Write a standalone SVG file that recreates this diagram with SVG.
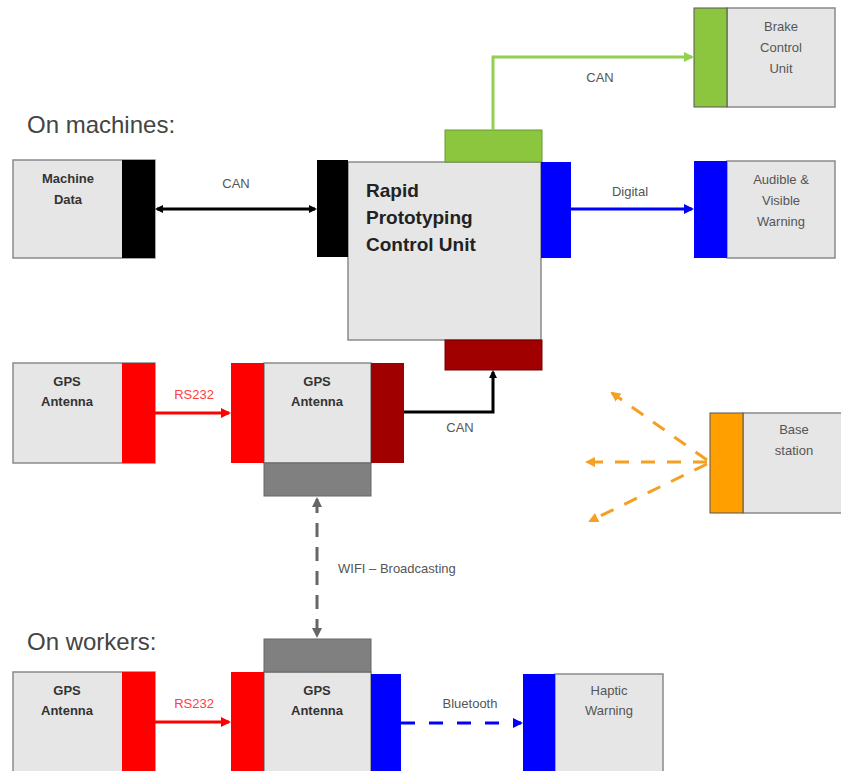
<svg xmlns="http://www.w3.org/2000/svg" width="841" height="771" viewBox="0 0 841 771">
<style>
.box{fill:#e6e6e6;stroke:#8a8a8a;stroke-width:1.5}
.bt{font-family:"Liberation Sans",Arial,sans-serif;font-size:13px;font-weight:bold;fill:#333;text-anchor:middle}
.nt{font-family:"Liberation Sans",Arial,sans-serif;font-size:13px;fill:#555;text-anchor:middle}
.lbl{font-family:"Liberation Sans",Arial,sans-serif;font-size:13px;fill:#555;text-anchor:middle}
.hd{font-family:"Liberation Sans",Arial,sans-serif;font-size:24px;fill:#444}
.big{font-family:"Liberation Sans",Arial,sans-serif;font-size:19px;font-weight:bold;fill:#222}
</style>
<defs>
<marker id="ak" markerWidth="8" markerHeight="8" refX="6" refY="4" orient="auto-start-reverse" markerUnits="userSpaceOnUse"><path d="M0,0 L8,4 L0,8 z" fill="#000"/></marker>
<marker id="ag" markerWidth="10" markerHeight="10" refX="8" refY="5" orient="auto" markerUnits="userSpaceOnUse"><path d="M0,0 L10,5 L0,10 z" fill="#92d050"/></marker>
<marker id="ab" markerWidth="10" markerHeight="10" refX="8" refY="5" orient="auto" markerUnits="userSpaceOnUse"><path d="M0,0 L10,5 L0,10 z" fill="#0000ff"/></marker>
<marker id="ar" markerWidth="10" markerHeight="10" refX="8" refY="5" orient="auto" markerUnits="userSpaceOnUse"><path d="M0,0 L10,5 L0,10 z" fill="#ff0000"/></marker>
<marker id="ay" markerWidth="10" markerHeight="10" refX="8" refY="5" orient="auto" markerUnits="userSpaceOnUse"><path d="M0,0 L10,5 L0,10 z" fill="#f4a020"/></marker>
<marker id="aw" markerWidth="10" markerHeight="10" refX="8" refY="5" orient="auto-start-reverse" markerUnits="userSpaceOnUse"><path d="M0,0 L10,5 L0,10 z" fill="#666"/></marker>
</defs>
<rect width="841" height="771" fill="#fff"/>
<text class="hd" x="27" y="133">On machines:</text>
<text class="hd" x="27" y="650">On workers:</text>

<g id="machine-data">
<rect class="box" x="13" y="160" width="142" height="98"/>
<rect x="122" y="160" width="33" height="98" fill="#000"/>
<text class="bt" x="68" y="183">Machine</text>
<text class="bt" x="68" y="204">Data</text>
</g>

<g id="rpcu">
<rect class="box" x="348" y="162" width="193" height="178"/>
<rect x="317" y="160" width="31" height="97" fill="#000"/>
<rect x="445" y="130" width="97" height="32" fill="#8cc63f" stroke="#6a9a30" stroke-width="1"/>
<rect x="541" y="162" width="30" height="96" fill="#0000ff"/>
<rect x="445" y="340" width="97" height="30" fill="#a00000" stroke="#700000" stroke-width="1"/>
<text class="big" x="366" y="197">Rapid</text>
<text class="big" x="366" y="224">Prototyping</text>
<text class="big" x="366" y="251">Control Unit</text>
</g>

<g id="brake">
<rect class="box" x="727" y="8" width="108" height="99"/>
<rect x="694" y="8" width="33" height="99" fill="#8cc63f" stroke="#555" stroke-width="1"/>
<text class="nt" x="781" y="31">Brake</text>
<text class="nt" x="781" y="52">Control</text>
<text class="nt" x="781" y="73">Unit</text>
</g>

<g id="audible">
<rect class="box" x="727" y="161" width="108" height="97"/>
<rect x="694" y="161" width="33" height="97" fill="#0000ff"/>
<text class="nt" x="781" y="184">Audible &amp;</text>
<text class="nt" x="781" y="205">Visible</text>
<text class="nt" x="781" y="226">Warning</text>
</g>

<g id="gps1">
<rect class="box" x="13" y="363" width="142" height="100"/>
<rect x="122" y="363" width="33" height="100" fill="#ff0000"/>
<text class="bt" x="67" y="386">GPS</text>
<text class="bt" x="67" y="406">Antenna</text>
</g>

<g id="gps2">
<rect class="box" x="264" y="363" width="107" height="100"/>
<rect x="231" y="363" width="33" height="100" fill="#ff0000"/>
<rect x="371" y="363" width="33" height="100" fill="#a00000"/>
<rect x="264" y="463" width="107" height="33" fill="#808080" stroke="#666" stroke-width="1"/>
<text class="bt" x="317" y="386">GPS</text>
<text class="bt" x="317" y="406">Antenna</text>
</g>

<g id="base">
<rect class="box" x="743" y="413" width="100" height="100"/>
<rect x="710" y="413" width="33" height="100" fill="#ffa000" stroke="#555" stroke-width="1"/>
<text class="nt" x="794" y="434">Base</text>
<text class="nt" x="794" y="455">station</text>
</g>

<g id="gps3">
<rect class="box" x="13" y="672" width="142" height="100"/>
<rect x="122" y="672" width="33" height="100" fill="#ff0000"/>
<text class="bt" x="67" y="695">GPS</text>
<text class="bt" x="67" y="715">Antenna</text>
</g>

<g id="gps4">
<rect class="box" x="264" y="672" width="107" height="100"/>
<rect x="231" y="672" width="33" height="100" fill="#ff0000"/>
<rect x="371" y="674" width="30" height="98" fill="#0000ff"/>
<rect x="264" y="639" width="107" height="33" fill="#808080" stroke="#666" stroke-width="1"/>
<text class="bt" x="317" y="695">GPS</text>
<text class="bt" x="317" y="715">Antenna</text>
</g>

<g id="haptic">
<rect class="box" x="555" y="674" width="108" height="98"/>
<rect x="523" y="674" width="32" height="98" fill="#0000ff"/>
<text class="nt" x="609" y="695">Haptic</text>
<text class="nt" x="609" y="715">Warning</text>
</g>

<g id="connectors" fill="none">
<line x1="157" y1="209" x2="315" y2="209" stroke="#000" stroke-width="3" marker-start="url(#ak)" marker-end="url(#ak)"/>
<text class="lbl" x="236" y="188" stroke="none">CAN</text>
<polyline points="493,130 493,57 692,57" stroke="#92d050" stroke-width="3" marker-end="url(#ag)"/>
<text class="lbl" x="600" y="82" stroke="none">CAN</text>
<line x1="571" y1="209" x2="692" y2="209" stroke="#0000ff" stroke-width="3" marker-end="url(#ab)"/>
<text class="lbl" x="630" y="196" stroke="none" fill="#444">Digital</text>
<line x1="155" y1="413" x2="229" y2="413" stroke="#ff0000" stroke-width="3" marker-end="url(#ar)"/>
<text class="lbl" x="194" y="399" stroke="none" style="fill:#ff4040">RS232</text>
<polyline points="404,412 493,412 493,372" stroke="#000" stroke-width="3" marker-end="url(#ak)"/>
<text class="lbl" x="460" y="432" stroke="none">CAN</text>
<line x1="317" y1="499" x2="317" y2="636" stroke="#666" stroke-width="3" stroke-dasharray="14,10" marker-start="url(#aw)" marker-end="url(#aw)"/>
<text class="lbl" x="338" y="573" stroke="none" style="text-anchor:start">WIFI – Broadcasting</text>
<line x1="155" y1="722" x2="229" y2="722" stroke="#ff0000" stroke-width="3" marker-end="url(#ar)"/>
<text class="lbl" x="194" y="708" stroke="none" style="fill:#ff4040">RS232</text>
<line x1="401" y1="723" x2="521" y2="723" stroke="#0000ff" stroke-width="3" stroke-dasharray="14,14" marker-end="url(#ab)"/>
<text class="lbl" x="470" y="708" stroke="none">Bluetooth</text>
<line x1="707" y1="460" x2="612" y2="393" stroke="#f4a020" stroke-width="3" stroke-dasharray="14,12" marker-end="url(#ay)"/>
<line x1="707" y1="462" x2="587" y2="462" stroke="#f4a020" stroke-width="3" stroke-dasharray="14,12" marker-end="url(#ay)"/>
<line x1="707" y1="464" x2="590" y2="521" stroke="#f4a020" stroke-width="3" stroke-dasharray="14,12" marker-end="url(#ay)"/>
</g>
</svg>
